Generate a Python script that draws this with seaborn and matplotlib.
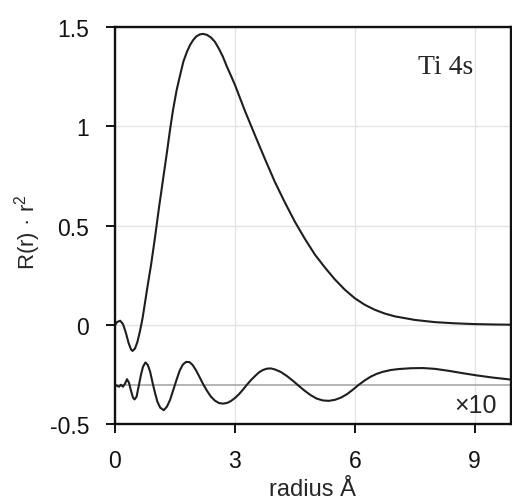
import numpy as np
import pandas as pd
import seaborn as sns
import matplotlib
matplotlib.use("Agg")
import matplotlib.pyplot as plt

# radial function of Ti 4s, R(r)*r^2
r_main = [0.0, 0.05, 0.13, 0.2, 0.27, 0.34, 0.4, 0.44, 0.5, 0.56, 0.62, 0.69,
          0.76, 0.83, 0.9, 1.0, 1.1, 1.2, 1.3, 1.375, 1.45, 1.54, 1.62, 1.71,
          1.8, 1.88, 1.96, 2.04, 2.12, 2.2, 2.3, 2.4, 2.5, 2.6, 2.7, 2.8, 2.9,
          3.0, 3.25, 3.5, 3.75, 4.0, 4.25, 4.5, 4.75, 5.0, 5.25, 5.5, 5.75,
          6.0, 6.25, 6.5, 6.75, 7.0, 7.5, 8.0, 8.5, 9.0, 9.5, 9.9]
R_main = [0.0, 0.015, 0.022, 0.005, -0.037, -0.09, -0.122, -0.13, -0.118,
          -0.085, -0.035, 0.035, 0.125, 0.215, 0.30, 0.44, 0.59, 0.73, 0.87,
          0.98, 1.08, 1.18, 1.25, 1.325, 1.375, 1.41, 1.435, 1.453, 1.462,
          1.465, 1.46, 1.447, 1.425, 1.39, 1.35, 1.30, 1.255, 1.209, 1.078,
          0.956, 0.836, 0.72, 0.617, 0.52, 0.434, 0.355, 0.29, 0.23, 0.178,
          0.135, 0.102, 0.077, 0.058, 0.044, 0.026, 0.015, 0.009, 0.005,
          0.003, 0.002]

# difference curve, magnified x10 and shifted to -0.3
r_diff = [0.0, 0.05, 0.1, 0.15, 0.2, 0.25, 0.3, 0.35, 0.4, 0.45, 0.49, 0.54,
          0.6, 0.65, 0.7, 0.76, 0.82, 0.88, 0.94, 1.0, 1.06, 1.13, 1.22, 1.3,
          1.38, 1.46, 1.54, 1.62, 1.7, 1.78, 1.86, 1.94, 2.02, 2.1, 2.2, 2.3,
          2.4, 2.5, 2.6, 2.7, 2.8, 2.9, 3.0, 3.1, 3.2, 3.3, 3.4, 3.5, 3.6, 3.7,
          3.8, 3.9, 4.0, 4.15, 4.3, 4.45, 4.6, 4.75, 4.9, 5.05, 5.2, 5.35, 5.5,
          5.65, 5.8, 5.95, 6.1, 6.25, 6.4, 6.55, 6.7, 6.9, 7.1, 7.4, 7.7, 8.0,
          8.35, 8.7, 9.05, 9.45, 9.9]
R_diff = [-0.30, -0.305, -0.31, -0.30, -0.31, -0.295, -0.272, -0.29, -0.33,
          -0.365, -0.374, -0.36, -0.30, -0.25, -0.21, -0.188, -0.20, -0.235,
          -0.29, -0.34, -0.385, -0.415, -0.428, -0.41, -0.375, -0.325, -0.275,
          -0.228, -0.198, -0.185, -0.186, -0.20, -0.225, -0.255, -0.295,
          -0.33, -0.36, -0.38, -0.392, -0.395, -0.392, -0.382, -0.367, -0.348,
          -0.325, -0.30, -0.277, -0.257, -0.238, -0.226, -0.219, -0.218,
          -0.223, -0.236, -0.256, -0.28, -0.306, -0.331, -0.353, -0.37,
          -0.379, -0.381, -0.376, -0.365, -0.348, -0.325, -0.30, -0.278,
          -0.259, -0.245, -0.235, -0.226, -0.221, -0.217, -0.216, -0.22,
          -0.23, -0.242, -0.253, -0.264, -0.274]

baseline = -0.3

df_main = pd.DataFrame({"r": r_main, "R": R_main})
df_diff = pd.DataFrame({"r": r_diff, "R": R_diff})

sns.set_style("white")
plt.rcParams["font.family"] = ["Liberation Sans", "DejaVu Sans"]
plt.rcParams["mathtext.fontset"] = "custom"
plt.rcParams["mathtext.rm"] = "Liberation Sans"

fig = plt.figure(figsize=(5.12, 5.02), dpi=100)
ax = fig.add_axes([0.2246, 0.1524, 0.7729, 0.792])

ax.grid(True, color="#e4e4e4", lw=1.0)
ax.set_axisbelow(True)
ax.axhline(baseline, color="#a8a8a8", lw=1.2, zorder=1.5)

sns.lineplot(data=df_main, x="r", y="R", ax=ax, color="#1e1e1e", lw=1.5,
             estimator=None, sort=False)
sns.lineplot(data=df_diff, x="r", y="R", ax=ax, color="#1e1e1e", lw=1.5,
             estimator=None, sort=False)

ax.set_xlim(0, 9.9)
ax.set_ylim(-0.5, 1.5)
ax.set_xticks([0, 3, 6, 9])
ax.set_yticks([-0.5, 0, 0.5, 1, 1.5])
ax.set_yticklabels(["-0.5", "0", "0.5", "1", "1.5"])

for s in ax.spines.values():
    s.set_color("#111111")
    s.set_linewidth(1.7)

ax.tick_params(axis="both", direction="out", length=6.5, width=1.4,
               colors="#111111", labelsize=16.5, left=True, bottom=True)
ax.tick_params(axis="x", pad=11)
ax.tick_params(axis="y", pad=12)

ax.set_xlabel("radius Å", fontsize=17)
ax.set_ylabel(r"R(r) · r$^{\mathregular{2}}$", fontsize=16)
ax.xaxis.set_label_coords(0.5, -0.135)
ax.yaxis.set_label_coords(-0.182, 0.487)

ax.text(8.28, 1.30, "Ti 4s", fontsize=20, ha="center", va="center",
        family=["Liberation Serif", "DejaVu Serif"])
ax.text(9.02, -0.40, "×10", fontsize=18, ha="center", va="center")

fig.savefig("out.png", dpi=100)
